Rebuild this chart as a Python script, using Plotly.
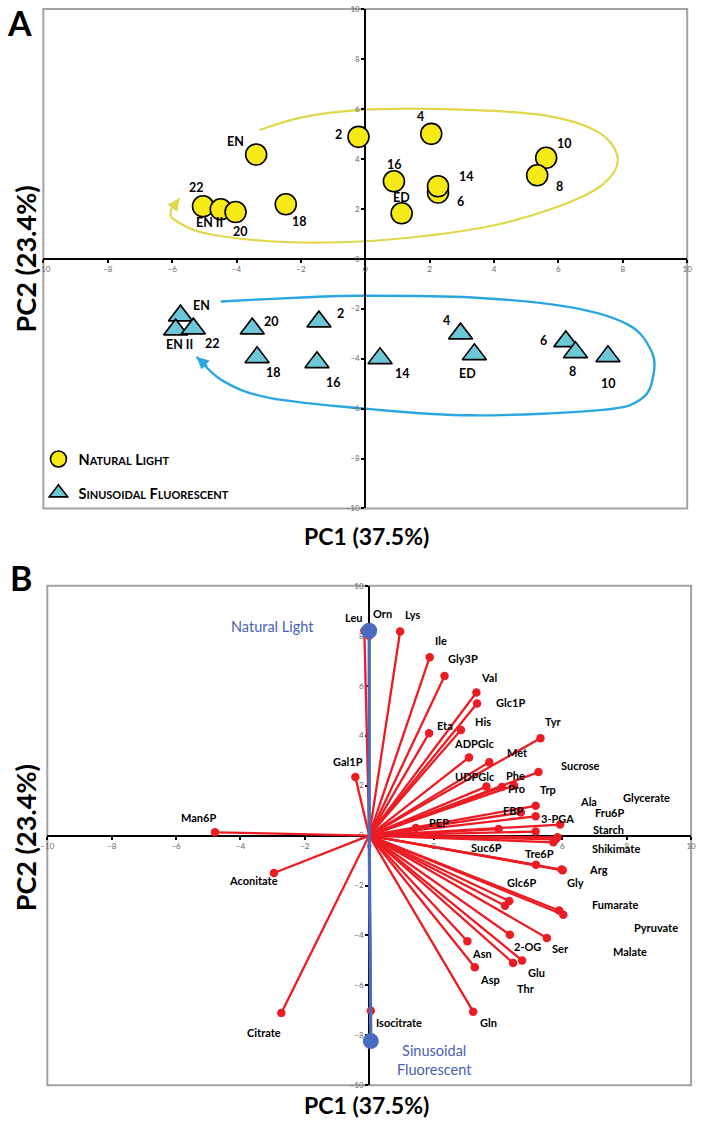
import plotly.graph_objects as go

FONT = "Lato"

# ---------------- Panel A : sample scores ----------------
nl_labels = ["EN", "2", "4", "16", "ED", "6", "14", "10", "8", "22", "EN II", "20", "18"]
nl_pc1 = [-3.39, -0.21, 2.05, 0.89, 1.13, 2.26, 2.26, 5.62, 5.34, -5.04, -4.49, -4.03, -2.47]
nl_pc2 = [4.17, 4.88, 5.00, 3.10, 1.82, 2.65, 2.90, 4.04, 3.34, 2.10, 1.98, 1.87, 2.18]

sf_labels = ["EN", "EN II", "22", "20", "18", "2", "16", "14", "4", "ED", "6", "8", "10"]
sf_pc1 = [-5.74, -5.89, -5.34, -3.51, -3.36, -1.44, -1.50, 0.46, 2.96, 3.39, 6.23, 6.53, 7.54]
sf_pc2 = [-2.28, -2.84, -2.80, -2.80, -3.95, -2.52, -4.15, -3.99, -3.00, -3.83, -3.31, -3.75, -3.91]

# label offsets (screen px, dx right / dy down)
nl_lab_dx = [-21, -20, -11, 1, 0, 22, 28, 18, 22, -7, -11, 5, 14]
nl_lab_dy = [-13, -2, -17, -17, -16, 9, -10, -14, 11, -19, 13, 19, 17]
sf_lab_dx = [21, 4, 19, 19, 16, 22, 17, 22, -14, -7, -22, -3, 1]
sf_lab_dy = [-10, 15, 15, -7, 15, -8, 20, 15, -13, 19, -1, 19, 27]

# guide loops (hand-drawn arrows in the original)
yellow_loop_pc1 = [-3.28, -1.97, -0.24, 2.0, 5.35, 7.18, 7.84, 7.38, 5.96, 3.82, 1.28, -0.75, -2.98, -5.01, -5.93, -6.03, -5.77]
yellow_loop_pc2 = [5.16, 5.66, 5.95, 6.0, 5.78, 5.11, 4.03, 2.98, 2.07, 1.29, 0.83, 0.66, 0.70, 1.03, 1.56, 1.96, 2.42]
blue_loop_pc1 = [-4.49, -1.97, -0.14, 3.31, 6.36, 8.19, 8.9, 8.95, 8.60, 7.38, 3.31, -0.02, -2.98, -4.41, -5.24]
blue_loop_pc2 = [-1.71, -1.55, -1.48, -1.55, -1.94, -2.66, -3.73, -4.66, -5.59, -6.05, -6.27, -6.0, -5.57, -4.9, -3.93]

# ---------------- Panel B : loadings ----------------
met_names = ["Leu", "Orn", "Lys", "Ile", "Gly3P", "Val", "Glc1P", "Eta", "His", "ADPGlc", "Tyr", "Met",
             "Sucrose", "UDPGlc", "Phe", "Pro", "Trp", "FBP", "3-PGA", "PEP", "Ala", "Glycerate", "Fru6P",
             "Starch", "Suc6P", "Shikimate", "Tre6P", "Arg", "Gly", "Glc6P", "Malate", "Fumarate", "Pyruvate",
             "2-OG", "Ser", "Asn", "Glu", "Thr", "Asp", "Gln", "Isocitrate", "Citrate", "Aconitate", "Man6P", "Gal1P"]
met_pc1 = [-0.15, 0.00, 0.96, 1.88, 2.34, 3.33, 3.35, 1.86, 2.85, 3.10, 5.32, 3.73,
           5.26, 3.64, 4.12, 4.50, 5.17, 4.71, 5.17, 1.45, 5.93, 5.85, 5.72,
           5.17, 4.02, 5.80, 5.18, 6.01, 5.98, 4.35, 4.22, 5.90, 6.03,
           4.37, 5.52, 3.05, 4.75, 4.47, 3.28, 3.23, 0.05, -2.73, -2.96, -4.79, -0.43]
met_pc2 = [8.20, 8.00, 8.17, 7.14, 6.39, 5.73, 5.29, 4.10, 4.23, 3.13, 3.90, 2.94,
           2.54, 1.96, 1.94, 2.00, 1.19, 0.92, 0.77, 0.30, 0.44, -0.07, -0.27,
           0.16, 0.26, -0.15, -1.17, -1.39, -1.36, -2.62, -2.81, -3.00, -3.17,
           -3.97, -4.10, -4.23, -5.00, -5.10, -5.27, -7.05, -7.01, -7.10, -1.50, 0.13, 2.34]
met_lab_dx = [-10, 13, 12, 11, 18, 13, 33, 16, 22, 6, 13, 28,
              42, -11, 14, 2, 12, -8, 22, 23, 28, 89, 56,
              73, -12, 60, 4, 36, 14, 12, 125, 56, 93,
              18, 14, 15, 14, 13, 15, 15, 28, -17, -20, -17, -7]
met_lab_dy = [-13, -22, -17, -17, -17, -15, -1, -8, -8, -14, -17, -10,
              -7, -10, -12, 3, -16, -2, 2, -6, -23, -40, -30,
              -2, 18, 9, -11, -1, 13, -18, 46, -6, 13,
              12, 11, 12, 12, 26, 12, 11, 12, 20, 7, -15, -16]

cond_names = ["Natural Light", "Sinusoidal<br>Fluorescent"]
cond_pc1 = [0.00, 0.05]
cond_pc2 = [8.20, -8.23]
cond_lab_dx = [-97, 64]
cond_lab_dy = [-4, 19]

ticks = list(range(-10, 11, 2))

# ---------------- colours ----------------
YELLOW = "#f6ea16"
TEAL = "#6cc8d6"
YLOOP = "#dfd84a"
BLOOP = "#2aa6e0"
RED = "#ec1c24"
BLUE = "#4a6cc0"
BLUE_TXT = "#4a5fb3"

fig = go.Figure()

# Panel A traces
fig.add_trace(go.Scatter(
    x=nl_pc1, y=nl_pc2, mode="markers", xaxis="x", yaxis="y",
    name="<b>N<span style='font-size:11px'>ATURAL</span> L<span style='font-size:11px'>IGHT</span></b>",
    legendgroup="nl",
    marker=dict(symbol="circle", size=21, color=YELLOW, line=dict(color="black", width=1.6)),
))
fig.add_trace(go.Scatter(
    x=sf_pc1, y=sf_pc2, mode="markers", xaxis="x", yaxis="y",
    name="<b>S<span style='font-size:11px'>INUSOIDAL</span> F<span style='font-size:11px'>LUORESCENT</span></b>",
    legendgroup="sf",
    marker=dict(symbol="triangle-up", size=21, color=TEAL, line=dict(color="black", width=1.6)),
))

# Panel B vectors
lx, ly = [], []
for a, b in zip(met_pc1, met_pc2):
    lx += [0, a, None]
    ly += [0, b, None]
fig.add_trace(go.Scatter(x=lx, y=ly, mode="lines", xaxis="x2", yaxis="y2", showlegend=False,
                         line=dict(color=RED, width=2.3)))
fig.add_trace(go.Scatter(x=met_pc1, y=met_pc2, mode="markers", xaxis="x2", yaxis="y2", showlegend=False,
                         marker=dict(color=RED, size=8.5)))
bx, by = [], []
for a, b in zip(cond_pc1, cond_pc2):
    bx += [0, a, None]
    by += [0, b, None]
fig.add_trace(go.Scatter(x=bx, y=by, mode="lines", xaxis="x2", yaxis="y2", showlegend=False,
                         line=dict(color=BLUE, width=3.2)))
fig.add_trace(go.Scatter(x=cond_pc1, y=cond_pc2, mode="markers", xaxis="x2", yaxis="y2", showlegend=False,
                         marker=dict(color=BLUE, size=16)))

# ---------------- layout geometry ----------------
W, H = 702, 1126
A_dom_x = [37 / W, 692 / W]
A_dom_y = [1 - 508 / H, 1 - 4 / H]
B_dom_x = [41 / W, 696 / W]
B_dom_y = [1 - 1090 / H, 1 - 586 / H]


def axis_common():
    return dict(range=[-10, 10], tickvals=ticks, showgrid=False, zeroline=False,
                showline=True, linecolor="black", linewidth=2, ticks="outside", ticklen=3,
                tickwidth=1.5, tickcolor="black", tickfont=dict(size=8, color="#666666", family=FONT),
                anchor="free", layer="below traces", fixedrange=True)


xa = axis_common(); xa.update(domain=A_dom_x, position=(A_dom_y[0] + A_dom_y[1]) / 2)
ya = axis_common(); ya.update(domain=A_dom_y, position=(A_dom_x[0] + A_dom_x[1]) / 2)
xb = axis_common(); xb.update(domain=B_dom_x, position=(B_dom_y[0] + B_dom_y[1]) / 2)
yb = axis_common(); yb.update(domain=B_dom_y, position=(B_dom_x[0] + B_dom_x[1]) / 2)


def spline_path(xs, ys):
    pts = list(zip(xs, ys))
    n = len(pts)
    d = "M %.3f,%.3f" % pts[0]
    for i in range(n - 1):
        p0 = pts[i - 1] if i > 0 else pts[i]
        p1 = pts[i]
        p2 = pts[i + 1]
        p3 = pts[i + 2] if i + 2 < n else pts[i + 1]
        c1 = (p1[0] + (p2[0] - p0[0]) / 6, p1[1] + (p2[1] - p0[1]) / 6)
        c2 = (p2[0] - (p3[0] - p1[0]) / 6, p2[1] - (p3[1] - p1[1]) / 6)
        d += " C %.3f,%.3f %.3f,%.3f %.3f,%.3f" % (c1 + c2 + p2)
    return d


shapes = [
    dict(type="rect", xref="x domain", yref="y domain", x0=0, x1=1, y0=0, y1=1,
         line=dict(color="#a3a3a3", width=2), layer="below"),
    dict(type="rect", xref="x2 domain", yref="y2 domain", x0=0, x1=1, y0=0, y1=1,
         line=dict(color="#a3a3a3", width=2), layer="below"),
    dict(type="path", xref="x", yref="y", path=spline_path(yellow_loop_pc1, yellow_loop_pc2),
         line=dict(color=YLOOP, width=2.2), layer="below"),
    dict(type="path", xref="x", yref="y", path=spline_path(blue_loop_pc1, blue_loop_pc2),
         line=dict(color=BLOOP, width=2.4), layer="below"),
]

ann = []
# arrow heads of the loops
for xs, ys, col in [(yellow_loop_pc1, yellow_loop_pc2, YLOOP), (blue_loop_pc1, blue_loop_pc2, BLOOP)]:
    ann.append(dict(x=xs[-1], y=ys[-1], ax=xs[-1] + (xs[-2] - xs[-1]) * 0.45, ay=ys[-1] + (ys[-2] - ys[-1]) * 0.45,
                    xref="x", yref="y", axref="x", ayref="y", text="", showarrow=True,
                    arrowhead=2, arrowsize=1.1, arrowwidth=2.2, arrowcolor=col, standoff=0))

lab_font_A = dict(family=FONT, size=12.5, color="black")
for lbl, a, b, dx, dy in zip(nl_labels, nl_pc1, nl_pc2, nl_lab_dx, nl_lab_dy):
    ann.append(dict(x=a, y=b, xref="x", yref="y", text="<b>%s</b>" % lbl, showarrow=False,
                    xshift=dx, yshift=-dy, font=lab_font_A))
for lbl, a, b, dx, dy in zip(sf_labels, sf_pc1, sf_pc2, sf_lab_dx, sf_lab_dy):
    ann.append(dict(x=a, y=b, xref="x", yref="y", text="<b>%s</b>" % lbl, showarrow=False,
                    xshift=dx, yshift=-dy, font=lab_font_A))

lab_font_B = dict(family=FONT, size=11, color="black")
for lbl, a, b, dx, dy in zip(met_names, met_pc1, met_pc2, met_lab_dx, met_lab_dy):
    ann.append(dict(x=a, y=b, xref="x2", yref="y2", text="<b>%s</b>" % lbl, showarrow=False,
                    xshift=dx, yshift=-dy, font=lab_font_B))
for lbl, a, b, dx, dy in zip(cond_names, cond_pc1, cond_pc2, cond_lab_dx, cond_lab_dy):
    ann.append(dict(x=a, y=b, xref="x2", yref="y2", text=lbl, showarrow=False,
                    xshift=dx, yshift=-dy, font=dict(family=FONT, size=14.5, color=BLUE_TXT)))

# panel letters and axis titles
def paper(px, py):
    return px / W, 1 - py / H

for txt, (px, py), size, ang in [
    ("A", (13, 18), 34, 0),
    ("B", (14, 578), 34, 0),
    ("PC1 (37.5%)", (366, 536), 23, 0),
    ("PC2 (23.4%)", (19, 256), 27, -90),
    ("PC1 (37.5%)", (366, 1110), 23, 0),
    ("PC2 (23.4%)", (19, 840), 27, -90),
]:
    x, y = paper(px, py)
    ann.append(dict(x=x, y=y, xref="paper", yref="paper", text="<b>%s</b>" % txt, showarrow=False,
                    textangle=ang, font=dict(family=FONT, size=size, color="black"),
                    xanchor="center", yanchor="middle"))

fig.update_layout(
    width=W, height=H, margin=dict(l=0, r=0, t=0, b=0),
    paper_bgcolor="white", plot_bgcolor="white",
    font=dict(family=FONT),
    xaxis=xa, yaxis=ya, xaxis2=xb, yaxis2=yb,
    shapes=shapes, annotations=ann,
    showlegend=True,
    legend=dict(x=32 / W, y=1 - 442 / H, xanchor="left", yanchor="top", bgcolor="rgba(0,0,0,0)",
                font=dict(family=FONT, size=14.5, color="black"), traceorder="grouped",
                tracegroupgap=12, itemsizing="trace", itemwidth=30),
)

fig.write_html("out.html", config={"displayModeBar": False},
               post_script="document.body.style.margin='0';document.body.style.overflow='hidden';")
